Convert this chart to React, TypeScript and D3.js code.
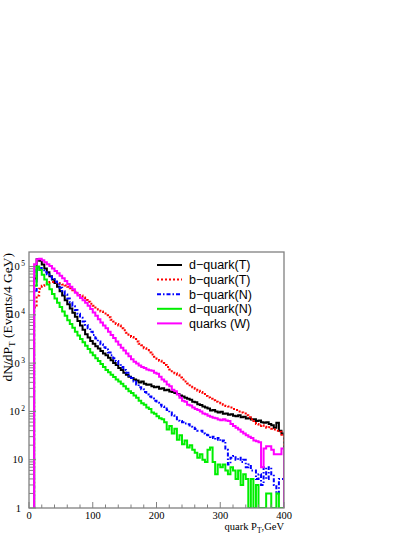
import React from 'react';
import * as d3 from 'd3';

// bin width of every histogram, GeV
const BIN_WIDTH = 4;
const X_MAX = 400;

// d-quark(T)  (black, solid)
const dQuarkT = [
  0, 0, 56200, 141000, 132000, 110000, 91200, 75900, 63100, 53700,
  45700, 38000, 30900, 25100, 20000, 16600, 13500, 11000, 9120, 7410,
  6030, 4900, 3980, 3390, 2880, 2510, 2240, 2000, 1780, 1580,
  1450, 1290, 1150, 1000, 912, 794, 724, 631, 575, 525,
  490, 457, 437, 398, 417, 372, 355, 363, 331, 316,
  324, 295, 302, 275, 282, 257, 251, 240, 229, 214,
  204, 191, 182, 174, 158, 155, 141, 135, 126, 120,
  115, 105, 107, 100, 95, 98, 89, 91, 85, 87,
  81, 79, 83, 76, 78, 71, 72, 68, 69, 63,
  65, 60, 58, 60, 55, 52, 46, 58, 40, 35,
];

// b-quark(T)  (red, dotted)
const bQuarkT = [
  0, 0, 14100, 25100, 34700, 39800, 43700, 45700, 47900, 47900,
  46800, 45700, 44700, 42700, 40700, 38000, 35500, 32400, 30200, 27500,
  25100, 22800, 20400, 18600, 17000, 15500, 14100, 12900, 11700, 10700,
  9770, 8910, 7940, 7240, 6460, 6000, 5250, 4790, 4270, 3890,
  3470, 3160, 2820, 2510, 2350, 2040, 1860, 1660, 1510, 1350,
  1230, 1120, 1000, 912, 832, 741, 676, 617, 575, 501,
  457, 417, 380, 347, 316, 295, 269, 252, 229, 209,
  195, 182, 170, 158, 151, 148, 138, 129, 126, 120,
  112, 107, 100, 95, 91, 83, 76, 69, 63, 55,
  50, 52, 48, 46, 47, 44, 42, 40, 38, 33,
];

// b-quark(N)  (blue, dash-dot)
const bQuarkN = [
  0, 0, 31600, 95500, 93300, 85100, 75900, 69200, 61700, 55000,
  49000, 42700, 36300, 30900, 26300, 21900, 18200, 15100, 12600, 10500,
  8710, 7240, 6170, 5250, 4470, 3800, 3240, 2820, 2450, 2140,
  1910, 1660, 1450, 1260, 1100, 955, 832, 724, 631, 550,
  490, 417, 363, 316, 288, 251, 224, 204, 186, 166,
  151, 138, 126, 115, 107, 95, 83, 76, 69, 63,
  60, 56, 54, 48, 46, 43, 40, 40, 35, 33,
  32, 28, 30, 26, 28, 24, 25, 16, 8, 11,
  12, 10, 11, 9, 10, 7, 8, 6, 6, 4,
  5, 3, 7, 4, 7, 5, 3, 2, 4, 4,
];

// d-quark(N)  (green, solid)
const dQuarkN = [
  0, 0, 39800, 100000, 85100, 67600, 53700, 42700, 33900, 26900,
  21900, 17800, 14500, 11700, 9550, 7760, 6460, 5370, 4470, 3720,
  3160, 2690, 2290, 1950, 1660, 1450, 1260, 1100, 955, 832,
  724, 646, 575, 513, 457, 417, 372, 331, 295, 263,
  240, 214, 191, 166, 148, 138, 120, 112, 95, 89,
  79, 72, 69, 60, 42, 50, 35, 44, 26, 32,
  21, 25, 18, 20, 16, 14, 11, 13, 10, 9,
  16, 18, 9, 5, 8, 7, 8, 6, 5, 7,
  6, 4, 6, 3, 5, 4, 1, 4, 1, 3,
  1, 1, 1, 2, 2, 1, 1, 2, 1, 1,
];

// quarks (W)  (magenta, solid)
const quarksW = [
  0, 0, 112000, 141000, 145000, 135000, 123000, 112000, 102000, 91200,
  81300, 72400, 64600, 57500, 50100, 43700, 38000, 33900, 28800, 25100,
  22400, 20000, 17800, 15500, 13200, 11200, 9550, 8130, 6920, 6030,
  5250, 4470, 3800, 3310, 2820, 2400, 2090, 1820, 1580, 1380,
  1200, 1070, 977, 891, 832, 794, 741, 708, 692, 631,
  603, 525, 457, 417, 363, 331, 282, 263, 224, 191,
  166, 158, 138, 132, 120, 112, 107, 100, 91, 87,
  81, 78, 74, 72, 68, 66, 69, 65, 63, 55,
  50, 46, 42, 38, 35, 32, 30, 28, 25, 24,
  23, 7, 17, 19, 19, 16, 13, 13, 13, 17,
];

const legendNames = ['d\u2212quark(T)', 'b\u2212quark(T)', 'b\u2212quark(N)', 'd\u2212quark(N)', 'quarks (W)'];
const xTickLabels = [0, 100, 200, 300, 400];
const yDecades = [0, 1, 2, 3, 4, 5];

const L = 29, R = 284, T = 252, B = 508;

export default function App() {
  const x = d3.scaleLinear().domain([0, X_MAX]).range([L, R]);
  const y = d3.scaleLog().domain([1, 2e5]).range([B, T]);

  const series = [
    { name: legendNames[0], data: dQuarkT, color: '#000000', dash: undefined as string | undefined },
    { name: legendNames[1], data: bQuarkT, color: '#ff0000', dash: '2,2' },
    { name: legendNames[2], data: bQuarkN, color: '#0000ff', dash: '4,2,1.5,2' },
    { name: legendNames[3], data: dQuarkN, color: '#00ee00', dash: undefined },
    { name: legendNames[4], data: quarksW, color: '#ff00ff', dash: undefined },
  ];

  const line = d3
    .line<[number, number]>()
    .x((d) => x(d[0]))
    .y((d) => y(Math.max(1, d[1])))
    .curve(d3.curveStepAfter);

  const pathFor = (data: number[]) => {
    let first = 0;
    while (first < data.length && data[first] <= 0) first++;
    const pts: [number, number][] = [[first * BIN_WIDTH, 1]];
    for (let i = first; i < data.length; i++) pts.push([i * BIN_WIDTH, data[i]]);
    pts.push([data.length * BIN_WIDTH, data[data.length - 1]]);
    pts.push([data.length * BIN_WIDTH, 1]);
    return line(pts) || '';
  };

  const xMinor = d3.range(0, X_MAX + 1, 20);
  const yMinor: number[] = [];
  yDecades.forEach((d) => {
    for (let m = 2; m <= 9; m++) {
      const v = m * Math.pow(10, d);
      if (v < 2e5) yMinor.push(v);
    }
  });

  const axisColor = '#808080';
  const serif = '"Liberation Serif", "DejaVu Serif", serif';
  const sans = '"Liberation Sans", Arial, Helvetica, sans-serif';

  return (
    <svg
      width={415}
      height={537}
      style={{ position: 'absolute', left: 0, top: 0, background: '#fff' }}
    >
      <defs>
        <clipPath id="plotClip">
          <rect x={L} y={T} width={R - L} height={B - T} />
        </clipPath>
      </defs>
      <rect x={0} y={0} width={415} height={537} fill="#fff" />

      {/* histograms */}
      <g clipPath="url(#plotClip)">
        {series.map((s) => (
          <path
            key={s.name}
            d={pathFor(s.data)}
            fill="none"
            stroke={s.color}
            strokeWidth={2}
            strokeDasharray={s.dash}
          />
        ))}
      </g>

      {/* frame */}
      <rect x={L} y={T} width={R - L} height={B - T} fill="none" stroke={axisColor} strokeWidth={1.3} />

      {/* x ticks */}
      {xMinor.map((v) => {
        const major = v % 100 === 0;
        return (
          <line key={'xt' + v} x1={x(v)} x2={x(v)} y1={B} y2={B - (major ? 6 : 3.5)} stroke={axisColor} strokeWidth={1} />
        );
      })}
      {xTickLabels.map((v) => (
        <text key={'xl' + v} x={x(v)} y={519} fontFamily={serif} fontSize={10.5} textAnchor="middle" fill="#000">
          {v}
        </text>
      ))}

      {/* y ticks */}
      {yDecades.map((d) => (
        <line key={'ym' + d} x1={L} x2={L + 7} y1={y(Math.pow(10, d))} y2={y(Math.pow(10, d))} stroke={axisColor} strokeWidth={1} />
      ))}
      {yMinor.map((v) => (
        <line key={'yn' + v} x1={L} x2={L + 4} y1={y(v)} y2={y(v)} stroke={axisColor} strokeWidth={1} />
      ))}
      {yDecades.map((d) => {
        const yy = y(Math.pow(10, d)) + 3.5;
        if (d === 0)
          return (
            <text key={'yl' + d} x={21} y={yy} fontFamily={serif} fontSize={10.5} textAnchor="end" fill="#000">1</text>
          );
        if (d === 1)
          return (
            <text key={'yl' + d} x={23} y={yy} fontFamily={serif} fontSize={10.5} textAnchor="end" fill="#000">10</text>
          );
        return (
          <text key={'yl' + d} x={25} y={yy} fontFamily={serif} fontSize={10.5} textAnchor="end" fill="#000">
            10
            <tspan dx={1.5} dy={-4} fontSize={7.5}>{d}</tspan>
          </text>
        );
      })}

      {/* axis titles */}
      <text x={284} y={530} fontFamily={serif} fontSize={10.5} textAnchor="end" fill="#000">
        quark P<tspan dy={2.5} fontSize={7.5}>T</tspan><tspan dy={-2.5}>,GeV</tspan>
      </text>
      <text
        transform="translate(12,253) rotate(-90)"
        x={0}
        y={0}
        fontFamily={serif}
        fontSize={13.5}
        textAnchor="end"
        fill="#000"
      >
        dN/dP<tspan dy={2.5} fontSize={9}>T</tspan><tspan dy={-2.5}> (Events/4 GeV)</tspan>
      </text>

      {/* legend */}
      {series.map((s, i) => {
        const ly = 265 + i * 14.6;
        return (
          <g key={'lg' + i}>
            <line x1={157} x2={182} y1={ly} y2={ly} stroke={s.color} strokeWidth={2} strokeDasharray={s.dash} />
            <text x={189} y={ly + 4.3} fontFamily={sans} fontSize={12.5} fill="#000">{s.name}</text>
          </g>
        );
      })}
    </svg>
  );
}
